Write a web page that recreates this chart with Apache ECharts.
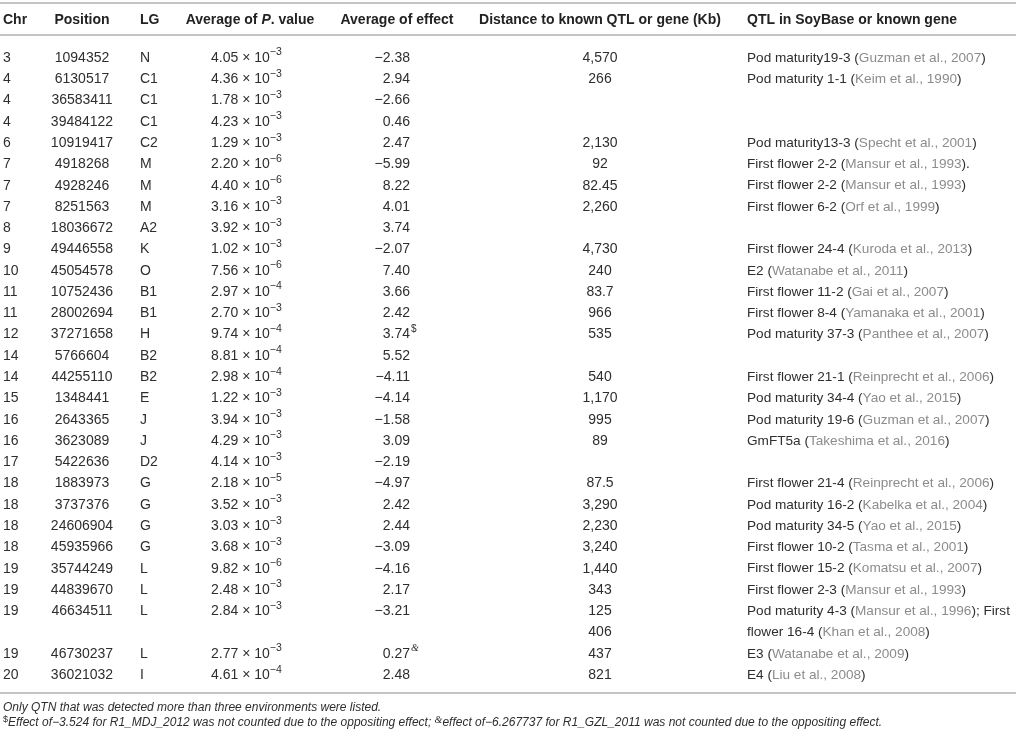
<!DOCTYPE html>
<html>
<head>
    <meta charset="utf-8">
    <title>QTN table</title>
    <script src="https://cdn.jsdelivr.net/npm/echarts@6/dist/echarts.min.js"></script>
    <style>
        html, body {
            margin: 0;
            padding: 0;
            background-color: #fff;
        }

        #table {
            width: 1016px;
            height: 739px;
        }
    </style>
</head>
<body>
    <div id="table"></div>
    <script type="text/javascript">
        // table data, one entry per printed line ('' = empty cell)
        const chr = ['3', '4', '4', '4', '6', '7', '7', '7', '8', '9', '10', '11', '11', '12', '14', '14', '15', '16', '16', '17',
            '18', '18', '18', '18', '19', '19', '19', '', '19', '20'];
        const position = ['1094352', '6130517', '36583411', '39484122', '10919417', '4918268', '4928246', '8251563', '18036672',
            '49446558', '45054578', '10752436', '28002694', '37271658', '5766604', '44255110', '1348441', '2643365', '3623089',
            '5422636', '1883973', '3737376', '24606904', '45935966', '35744249', '44839670', '46634511', '', '46730237', '36021032'];
        const lg = ['N', 'C1', 'C1', 'C1', 'C2', 'M', 'M', 'M', 'A2', 'K', 'O', 'B1', 'B1', 'H', 'B2', 'B2', 'E', 'J', 'J', 'D2',
            'G', 'G', 'G', 'G', 'L', 'L', 'L', '', 'L', 'I'];
        const pMantissa = ['4.05', '4.36', '1.78', '4.23', '1.29', '2.20', '4.40', '3.16', '3.92', '1.02', '7.56', '2.97', '2.70',
            '9.74', '8.81', '2.98', '1.22', '3.94', '4.29', '4.14', '2.18', '3.52', '3.03', '3.68', '9.82', '2.48', '2.84', '',
            '2.77', '4.61'];
        const pExponent = [-3, -3, -3, -3, -3, -6, -6, -3, -3, -3, -6, -4, -3, -4, -4, -4, -3, -3, -3, -3, -5, -3, -3, -3, -6,
            -3, -3, null, -3, -4];
        const effect = [-2.38, 2.94, -2.66, 0.46, 2.47, -5.99, 8.22, 4.01, 3.74, -2.07, 7.40, 3.66, 2.42, 3.74, 5.52, -4.11,
            -4.14, -1.58, 3.09, -2.19, -4.97, 2.42, 2.44, -3.09, -4.16, 2.17, -3.21, null, 0.27, 2.48];
        const effectNote = ['', '', '', '', '', '', '', '', '', '', '', '', '', '$', '', '', '', '', '', '', '', '', '', '', '',
            '', '', '', '&', ''];
        const distance = ['4,570', '266', '', '', '2,130', '92', '82.45', '2,260', '', '4,730', '240', '83.7', '966', '535', '',
            '540', '1,170', '995', '89', '', '87.5', '3,290', '2,230', '3,240', '1,440', '343', '125', '406', '437', '821'];
        const qtlName = ['Pod maturity19-3', 'Pod maturity 1-1', '', '', 'Pod maturity13-3', 'First flower 2-2',
            'First flower 2-2', 'First flower 6-2', '', 'First flower 24-4', 'E2', 'First flower 11-2', 'First flower 8-4',
            'Pod maturity 37-3', '', 'First flower 21-1', 'Pod maturity 34-4', 'Pod maturity 19-6', 'GmFT5a', '',
            'First flower 21-4', 'Pod maturity 16-2', 'Pod maturity 34-5', 'First flower 10-2', 'First flower 15-2',
            'First flower 2-3', 'Pod maturity 4-3', 'flower 16-4', 'E3', 'E4'];
        const qtlRef = ['Guzman et al., 2007', 'Keim et al., 1990', '', '', 'Specht et al., 2001', 'Mansur et al., 1993',
            'Mansur et al., 1993', 'Orf et al., 1999', '', 'Kuroda et al., 2013', 'Watanabe et al., 2011', 'Gai et al., 2007',
            'Yamanaka et al., 2001', 'Panthee et al., 2007', '', 'Reinprecht et al., 2006', 'Yao et al., 2015',
            'Guzman et al., 2007', 'Takeshima et al., 2016', '', 'Reinprecht et al., 2006', 'Kabelka et al., 2004',
            'Yao et al., 2015', 'Tasma et al., 2001', 'Komatsu et al., 2007', 'Mansur et al., 1993', 'Mansur et al., 1996',
            'Khan et al., 2008', 'Watanabe et al., 2009', 'Liu et al., 2008'];
        const qtlTail = [')', ')', '', '', ')', ').', ')', ')', '', ')', ')', ')', ')', ')', '', ')', ')', ')', ')', '', ')', ')',
            ')', ')', ')', ')', '); First', ')', ')', ')'];
        const footNote1 = 'Only QTN that was detected more than three environments were listed.';
        const footNote2a = 'Effect of\u22123.524 for R1_MDJ_2012 was not counted due to the oppositing effect; ';
        const footNote2b = 'effect of\u22126.267737 for R1_GZL_2011 was not counted due to the oppositing effect.';

        // layout (pixels)
        const W = 1016, H = 739;
        const ROW0 = 58, ROW_H = 21.28;
        const FONT = '"Liberation Sans", Arial, Helvetica, sans-serif';
        const INK = '#2e2e2e', REF = '#8c8c8c', RULE = '#c4c4c4';
        const col = { chr: 3, pos: 82, lg: 140, p: 211, pHead: 250, eff: 410, effHead: 397, dist: 600, qtl: 747 };
        const rowOf = function (px) { return (px - ROW0) / ROW_H; };

        const minus = function (s) { return String(s).replace('-', '\u2212'); };

        function tok(size, color, weight, style, extra) {
            return Object.assign({
                fontSize: size, fontFamily: FONT, fontWeight: weight || 'normal',
                fontStyle: style || 'normal', fill: color
            }, extra || {});
        }

        function txt(x, y, text, align, extra) {
            return {
                type: 'text',
                style: Object.assign({
                    x: x, y: y, text: text, align: align || 'left', verticalAlign: 'middle',
                    fontSize: 14, fontFamily: FONT, fill: INK
                }, extra || {})
            };
        }

        const richBody = {
            n: tok(14, INK, 'normal', 'normal', { lineHeight: 22 }),
            sup: tok(10.5, INK, 'normal', 'normal', { lineHeight: 12, verticalAlign: 'top' }),
            q: tok(13.6, INK, 'normal', 'normal', { lineHeight: 22 }),
            r: tok(13.6, REF, 'normal', 'normal', { lineHeight: 22 })
        };

        function renderRow(params, api) {
            const i = params.dataIndex;
            const y = api.coord([0, i])[1];
            const X = function (v) { return api.coord([v, i])[0]; };
            const kids = [];
            if (chr[i]) kids.push(txt(X(col.chr), y, chr[i], 'left'));
            if (position[i]) kids.push(txt(X(col.pos), y, position[i], 'center'));
            if (lg[i]) kids.push(txt(X(col.lg), y, lg[i], 'left'));
            if (pMantissa[i]) {
                kids.push(txt(X(col.p), y, '{n|' + pMantissa[i] + ' \u00d7 10}{sup|' + minus(pExponent[i]) + '}', 'left',
                    { rich: richBody }));
            }
            if (effect[i] !== null) {
                kids.push(txt(X(col.eff), y, minus(effect[i].toFixed(2)), 'right'));
                if (effectNote[i]) {
                    kids.push(txt(X(col.eff + 1), y - 5, effectNote[i], 'left', {
                        fontSize: 10,
                        fontFamily: effectNote[i] === '&' ? '"Liberation Serif", serif' : FONT,
                        fontStyle: effectNote[i] === '&' ? 'italic' : 'normal'
                    }));
                }
            }
            if (distance[i]) kids.push(txt(X(col.dist), y, distance[i], 'center'));
            if (qtlName[i]) {
                kids.push(txt(X(col.qtl), y, '{q|' + qtlName[i] + ' (}{r|' + qtlRef[i] + '}{q|' + qtlTail[i] + '}', 'left',
                    { rich: richBody }));
            }
            return { type: 'group', children: kids };
        }

        function renderFrame(params, api) {
            const P = function (x, r) { return api.coord([x, r]); };
            const rule = function (r) {
                const a = P(0, r), b = P(W, r);
                return {
                    type: 'line',
                    shape: { x1: a[0], y1: a[1], x2: b[0], y2: b[1] },
                    style: { stroke: RULE, lineWidth: 2 }
                };
            };
            const hy = P(0, rowOf(20))[1];
            const bold = { fontWeight: 'bold', fill: '#222' };
            const richHead = {
                b: tok(14, '#222', 'bold'),
                bi: tok(14, '#222', 'bold', 'italic')
            };
            const richNote = {
                i: tok(12, INK, 'normal', 'italic', { lineHeight: 16 }),
                sup: tok(9, INK, 'normal', 'normal', { lineHeight: 10, verticalAlign: 'top' }),
                amp: tok(10, INK, 'normal', 'italic', { lineHeight: 10, verticalAlign: 'top', fontFamily: '"Liberation Serif", serif' })
            };
            return {
                type: 'group',
                children: [
                    rule(rowOf(3)),
                    rule(rowOf(35)),
                    rule(rowOf(693)),
                    txt(P(col.chr, 0)[0], hy, 'Chr', 'left', bold),
                    txt(P(col.pos, 0)[0], hy, 'Position', 'center', bold),
                    txt(P(col.lg, 0)[0], hy, 'LG', 'left', bold),
                    txt(P(col.pHead, 0)[0], hy, '{b|Average of }{bi|P}{b|. value}', 'center', { rich: richHead }),
                    txt(P(col.effHead, 0)[0], hy, 'Average of effect', 'center', bold),
                    txt(P(col.dist, 0)[0], hy, 'Distance to known QTL or gene (Kb)', 'center', bold),
                    txt(P(col.qtl, 0)[0], hy, 'QTL in SoyBase or known gene', 'left', bold),
                    txt(P(col.chr, 0)[0], P(0, rowOf(708))[1], '{i|' + footNote1 + '}', 'left', { rich: richNote }),
                    txt(P(col.chr, 0)[0], P(0, rowOf(723))[1],
                        '{sup|$}{i|' + footNote2a + '}{amp|&}{i|' + footNote2b + '}', 'left', { rich: richNote })
                ]
            };
        }

        const chart = echarts.init(document.getElementById('table'), null, { renderer: 'canvas' });
        const option = {
            animation: false,
            backgroundColor: '#fff',
            grid: { left: 0, right: 0, top: 0, bottom: 0 },
            xAxis: { type: 'value', min: 0, max: W, show: false },
            yAxis: { type: 'value', inverse: true, min: -ROW0 / ROW_H, max: (H - ROW0) / ROW_H, show: false },
            series: [
                {
                    type: 'custom',
                    name: 'rows',
                    renderItem: renderRow,
                    data: chr.map(function (c, i) { return [0, i]; }),
                    silent: true
                },
                {
                    type: 'custom',
                    name: 'frame',
                    renderItem: renderFrame,
                    data: [[0, 0]],
                    silent: true
                }
            ]
        };
        chart.setOption(option);

        window.addEventListener('resize', function () {
            chart.resize();
        });
    </script>
</body>
</html>
